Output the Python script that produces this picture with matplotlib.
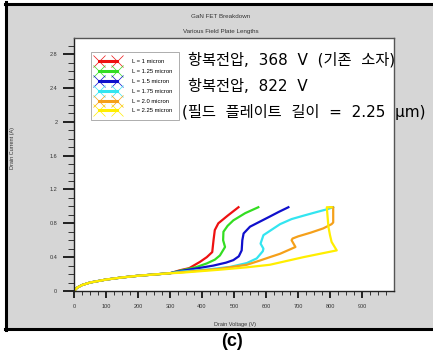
import matplotlib
matplotlib.use('Agg')
import matplotlib.pyplot as plt
from matplotlib.lines import Line2D
from matplotlib.patches import Rectangle

plt.rcParams['font.family'] = ['Liberation Sans', 'DejaVu Sans']

# shared low-voltage part of every curve
base_v = [0, 10, 25, 50, 100, 150, 200, 250, 300]
base_i = [0, 0.04, 0.07, 0.10, 0.135, 0.16, 0.18, 0.195, 0.21]

# tails of each curve (drain voltage V, drain current A)
red_v = [331, 360, 394, 415, 432, 436, 440, 451, 480, 514]
red_i = [0.245, 0.27, 0.345, 0.40, 0.46, 0.60, 0.72, 0.80, 0.89, 0.99]
green_v = [331, 380, 415, 440, 456, 472, 466, 467, 480, 498, 535, 576]
green_i = [0.24, 0.28, 0.326, 0.37, 0.42, 0.52, 0.60, 0.70, 0.77, 0.835, 0.92, 0.99]
blue_v = [331, 380, 435, 475, 498, 515, 524, 526, 530, 550, 581, 612, 640, 670]
blue_i = [0.235, 0.265, 0.30, 0.335, 0.365, 0.41, 0.48, 0.60, 0.68, 0.76, 0.82, 0.88, 0.935, 0.99]
cyan_v = [331, 420, 488, 540, 571, 590, 592, 583, 592, 612, 644, 680, 717, 760, 790, 810]
cyan_i = [0.228, 0.255, 0.285, 0.33, 0.385, 0.47, 0.50, 0.56, 0.66, 0.71, 0.79, 0.85, 0.89, 0.935, 0.965, 0.99]
orange_v = [331, 450, 540, 581, 612, 644, 680, 692, 680, 683, 700, 740, 779, 805, 810, 810, 800]
orange_i = [0.22, 0.26, 0.31, 0.36, 0.40, 0.44, 0.50, 0.52, 0.60, 0.62, 0.645, 0.69, 0.74, 0.79, 0.81, 0.99, 0.99]
yellow_v = [331, 450, 540, 612, 717, 821, 805, 800, 795, 790, 805]
yellow_i = [0.215, 0.25, 0.28, 0.31, 0.40, 0.48, 0.58, 0.66, 0.76, 0.99, 0.99]

labels = ['L = 1 micron', 'L = 1.25 micron', 'L = 1.5 micron',
          'L = 1.75 micron', 'L = 2.0 micron', 'L = 2.25 micron']
colors = ['#ee1111', '#33dd22', '#1010cc', '#33e5f0', '#f5a01a', '#ffee00']
tails = [(red_v, red_i), (green_v, green_i), (blue_v, blue_i),
         (cyan_v, cyan_i), (orange_v, orange_i), (yellow_v, yellow_i)]

x_ticks = [0, 100, 200, 300, 400, 500, 600, 700, 800, 900]
y_ticks = [0, 0.4, 0.8, 1.2, 1.6, 2.0, 2.4, 2.8]
y_tick_labels = ['0', '0.4', '0.8', '1.2', '1.6', '2', '2.4', '2.8']

# the original uses wide spacing between words
note_lines = ['항복전압,  368  V  (기존  소자)', '항복전압,  822  V',
              '(필드  플레이트  길이  =  2.25  μm)']

W, H = 433, 352
fig = plt.figure(figsize=(W / 100, H / 100), dpi=100, facecolor='white')

# gray panel, black frame on left / top / bottom (right side is cut off)
px = lambda x: x / W
py = lambda y: 1 - y / H
fig.patches.append(Rectangle((px(6), py(328.5)), 1.0, (328.5 - 3.5) / H,
                             transform=fig.transFigure, facecolor='#d6d6d6',
                             edgecolor='none', zorder=-10))
for xs, ys in [([px(6), px(6)], [py(2), py(330)]),
               ([px(5), 1.0], [py(3.5), py(3.5)]),
               ([px(5), 1.0], [py(328.5), py(328.5)])]:
    fig.lines.append(Line2D(xs, ys, transform=fig.transFigure, color='black',
                            lw=2.2, zorder=-5))

ax = fig.add_axes([74 / W, 1 - 291 / H, 320 / W, 253 / H])
ax.set_facecolor('white')

for (tv, ti), c in zip(tails, colors):
    ax.plot(base_v + tv, base_i + ti, color=c, lw=1.6, solid_joinstyle='round')

ax.set_xlim(0, 1000)
ax.set_ylim(0, 2.99)
ax.set_xticks(x_ticks)
ax.set_xticks(list(range(0, 1000, 25)), minor=True)
ax.set_yticks(y_ticks)
ax.set_yticklabels(y_tick_labels)
ax.set_yticks([k / 10 for k in range(30)], minor=True)
ax.tick_params(axis='both', which='major', labelsize=4, colors='#222222',
               labelcolor='#333333', width=1.4)
ax.tick_params(axis='y', which='major', length=8, pad=4)
ax.tick_params(axis='y', which='minor', length=4.3, width=0.7, color='#333333')
ax.tick_params(axis='x', which='major', length=5, pad=4)
ax.tick_params(axis='x', which='minor', length=3, width=0.7, color='#333333')

for s in ['left', 'bottom']:
    ax.spines[s].set_color('#222222')
    ax.spines[s].set_linewidth(1.0)
for s in ['top', 'right']:
    ax.spines[s].set_color('#555555')
    ax.spines[s].set_linewidth(1.0)

ax.set_xlabel('Drain Voltage (V)', fontsize=4, color='#333333')
ax.xaxis.set_label_coords((235 - 74) / 320, (291 - 322) / 253)
ax.set_ylabel('Drain Current (A)', fontsize=4, color='#333333')
ax.yaxis.set_label_coords((15 - 74) / 320, (291 - 148) / 253)

fig.text(221 / W, 1 - 16 / H, 'GaN FET Breakdown', ha='center', va='center',
         fontsize=4.5, color='#333333')
fig.text(221 / W, 1 - 31 / H, 'Various Field Plate Lengths', ha='center', va='center',
         fontsize=4.5, color='#333333')

handles = [Line2D([], [], color=c, lw=2.2, marker='x', markersize=9,
                  markeredgewidth=0.5) for c in colors]
leg = ax.legend(handles, labels, loc='upper left',
                bbox_to_anchor=((90.7 - 74) / 320, (291 - 52) / 253),
                borderaxespad=0, fontsize=4.2, frameon=True, fancybox=False,
                edgecolor='#888888', handlelength=3.6, numpoints=2,
                labelspacing=0.82, borderpad=1.2, handletextpad=2.3)
leg.get_frame().set_linewidth(0.6)

for k, line in enumerate(note_lines):
    x0 = 182 if line.startswith('(') else 188
    fig.text(x0 / W, 1 - (60 + 26 * k) / H, line, ha='left', va='center',
             fontsize=11, color='black',
             family=['DejaVu Sans', 'Noto Sans CJK KR'])

fig.text(232 / W, 1 - 341 / H, '(c)', ha='center', va='center',
         fontsize=13, fontweight='bold', color='black')

fig.savefig('out.png', dpi=100)
